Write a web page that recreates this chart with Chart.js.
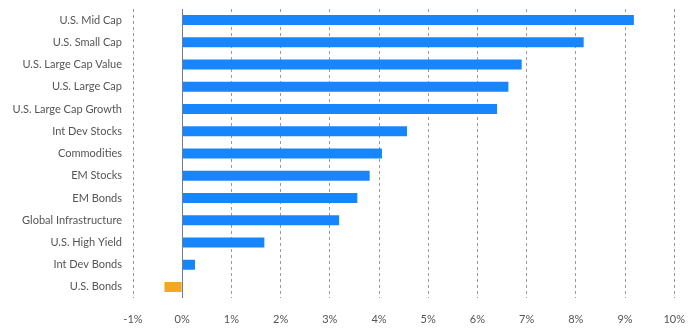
<!DOCTYPE html>
<html>
<head>
<meta charset="utf-8">
<script src="https://cdn.jsdelivr.net/npm/chart.js@4"></script>
<style>
  html, body { margin:0; padding:0; background:#fff; }
  #wrap { width:700px; height:330px; }
</style>
</head>
<body>
<div id="wrap"><canvas id="chart"></canvas></div>
<script>
const categories = ['U.S. Mid Cap','U.S. Small Cap','U.S. Large Cap Value','U.S. Large Cap','U.S. Large Cap Growth','Int Dev Stocks','Commodities','EM Stocks','EM Bonds','Global Infrastructure','U.S. High Yield','Int Dev Bonds','U.S. Bonds'];
const returns = [9.18, 8.16, 6.90, 6.63, 6.40, 4.57, 4.06, 3.81, 3.56, 3.19, 1.67, 0.26, -0.36];
const xMin = -1, xMax = 10;

const BLUE = '#1785fb', ORANGE = '#f5a623', TXT = '#555';
Chart.defaults.font.family = 'Lato, "Open Sans", sans-serif';
Chart.defaults.font.size = 11;
Chart.defaults.color = TXT;

// solid line at 0%
const zeroLine = {
  id:'zeroLine',
  afterDatasetsDraw(chart){
    const {ctx, chartArea:a, scales:{x}} = chart;
    const px = Math.round(x.getPixelForValue(0)) + 0.5;
    ctx.save();
    ctx.strokeStyle = '#6f7d8e'; ctx.lineWidth = 1;
    ctx.beginPath(); ctx.moveTo(px, a.top); ctx.lineTo(px, a.bottom); ctx.stroke();
    ctx.restore();
  }
};

new Chart(document.getElementById('chart'), {
  type:'bar',
  data:{labels:categories, datasets:[{
    data:returns,
    backgroundColor: returns.map(v=>v<0?ORANGE:BLUE),
    barPercentage:0.9, categoryPercentage:0.5
  }]},
  options:{
    indexAxis:'y', responsive:true, maintainAspectRatio:false, animation:false,
    layout:{padding:{top:9, right:22, bottom:0, left:0}},
    plugins:{legend:{display:false}, tooltip:{enabled:false}},
    scales:{
      x:{min:xMin, max:xMax,
        grid:{color:'#9a9a9a', drawTicks:false, lineWidth:1},
        border:{display:false, dash:[3,3]},
        ticks:{stepSize:1, padding:15, callback:v=>v+'%', color:TXT},
        afterFit:s=>{s.height = 32;}
      },
      y:{
        grid:{display:false, drawTicks:false},
        border:{display:false},
        ticks:{padding:11, color:TXT, autoSkip:false},
        afterFit:s=>{s.width = 133; s.paddingTop = 0; s.paddingBottom = 0;}
      }
    }
  },
  plugins:[zeroLine]
});
</script>
</body>
</html>
